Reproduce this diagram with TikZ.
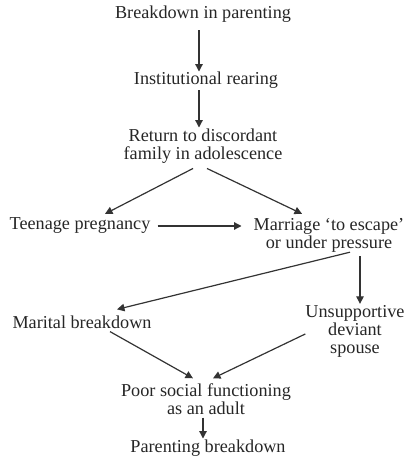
\documentclass[tikz,border=0pt]{standalone}
\usepackage{fontspec}
\setmainfont{Liberation Serif}
\usetikzlibrary{arrows.meta,calc}
\begin{document}
\begin{tikzpicture}[x=1pt,y=1pt,
  lbl/.style={inner sep=0pt, align=center, text=black!85,
    font=\fontsize{18.2}{18}\selectfont},
  arr/.style={line width=1.2pt, draw=black!80,
    -{Triangle[width=7.5pt,length=7.5pt]}}]
\useasboundingbox (0,0) rectangle (407,463);

% stages of the cycle
\node[lbl] (top)  at (203,449) {Breakdown in parenting};
\node[lbl] (inst) at (206,383) {Institutional rearing};
\node[lbl] (ret)  at (203,317) {Return to discordant\\family in adolescence};
\node[lbl] (teen) at (80,237)  {Teenage pregnancy};
\node[lbl] (marr) at (329,228) {Marriage `to escape'\\or under pressure};
\node[lbl] (mar)  at (82,141)  {Marital breakdown};
\node[lbl] (uns)  at (355,132) {Unsupportive\\deviant\\spouse};
\node[lbl] (poor) at (206,64)  {Poor social functioning\\as an adult};
\node[lbl] (par)  at (208,15)  {Parenting breakdown};

% links between stages
\draw[arr] ($(top.south)+(-4,-8)$) -- ($(inst.north)+(-7,0)$);
\draw[arr] ($(inst.south)+(-7,-2)$) -- ($(ret.north)+(-4,1)$);
\draw[arr] ($(ret.south)+(-10,-5)$) -- ($(teen.north)+(25,4)$);
\draw[arr] ($(ret.south)+(4,-5)$) -- ($(marr.north)+(-27,4)$);
\draw[arr] ($(teen.east)+(7,0)$) -- ($(teen.east -| marr.west)+(-12,0)$);
\draw[arr] ($(marr.south)+(21,0)$) -- ($(mar.north)+(35,6)$);
\draw[arr] ($(marr.south)+(31,-4)$) -- ($(uns.north)+(5,1)$);
\draw[arr] ($(mar.south)+(28,-3)$) -- ($(poor.north)+(-13,5)$);
\draw[arr] ($(uns.west)+(0,-3)$) -- ($(poor.north)+(7,5)$);
\draw[arr] ($(poor.south)+(-3,-3)$) -- ($(par.north)+(-5,1)$);
\end{tikzpicture}
\end{document}
